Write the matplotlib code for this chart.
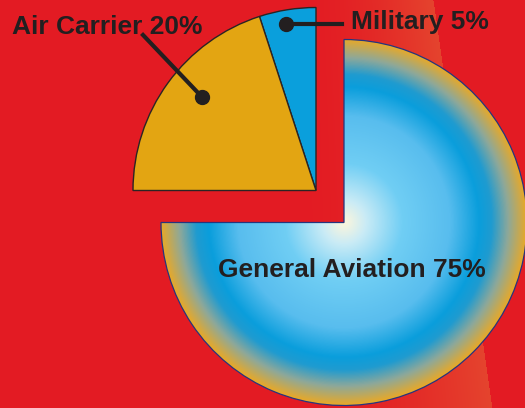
import numpy as np
from matplotlib import pyplot as plt
from matplotlib.colors import LinearSegmentedColormap, to_rgb

# chart data
labels = ['Military', 'Air Carrier', 'General Aviation']
shares = [5, 20, 75]
label_text = ['Military 5%', 'Air Carrier 20%', 'General Aviation 75%']

W, H = 525, 408
RED = '#e31b23'
LIGHT_RED = '#e5442e'
INK = '#231f20'
GOLD = '#e3a512'
BLUE = '#0a9fdc'


def background():
    yy, xx = np.mgrid[0:H, 0:W]
    edge = 433 + (492 - 433) * yy / H
    t = np.clip((xx - 290) / (edge - 290), 0, 1) ** 1.8
    t[xx >= edge] = 0
    c0 = np.array(to_rgb(RED))
    c1 = np.array(to_rgb(LIGHT_RED))
    return c0 + t[..., None] * (c1 - c0)


def main():
    fig = plt.figure(figsize=(W / 100, H / 100), dpi=100)
    ax = fig.add_axes([0, 0, 1, 1])
    ax.imshow(background(), extent=[0, W, 0, H], zorder=0, origin='upper')

    r = 183
    big_c = (344, H - 222.5)
    small_c = (316, H - 190.5)

    # exploded small slices
    small, _ = ax.pie(shares, startangle=90, radius=r, center=small_c,
                      colors=[BLUE, GOLD, 'none'],
                      wedgeprops=dict(edgecolor='#2b2424', linewidth=1.0))
    small[2].set_visible(False)

    # big slice with radial gradient
    big, _ = ax.pie(shares, startangle=90, radius=r, center=big_c,
                    colors=['none', 'none', 'none'],
                    wedgeprops=dict(edgecolor='#26357e', linewidth=0.9))
    big[0].set_visible(False)
    big[1].set_visible(False)
    big[2].set_zorder(3)

    cmap = LinearSegmentedColormap.from_list('ga', [
        (0.00, '#fdf6dc'),
        (0.12, '#c9ebf6'),
        (0.32, '#70cef4'),
        (0.58, '#58bdee'),
        (0.74, '#0a9edc'),
        (0.81, '#1f9bd0'),
        (0.90, '#8da89a'),
        (1.00, '#e6a92a'),
    ])
    n = 600
    g = np.linspace(-1, 1, n)
    gx, gy = np.meshgrid(g, g)
    dist = np.clip(np.hypot(gx, gy), 0, 1)
    im = ax.imshow(cmap(dist), extent=[big_c[0] - r, big_c[0] + r,
                                       big_c[1] - r, big_c[1] + r],
                   zorder=2, interpolation='bilinear')
    im.set_clip_path(big[2])

    font = dict(family='Liberation Sans', weight='bold', size=19, color=INK)

    # labels and leader lines
    ax.text(351, H - 29, label_text[0], ha='left', va='baseline', zorder=5, **font)
    ax.plot([286, 342], [H - 24, H - 24], color=INK, lw=3, zorder=5)
    ax.plot([286], [H - 24], 'o', color=INK, ms=10, zorder=5)

    ax.text(12, H - 34, label_text[1], ha='left', va='baseline', zorder=5, **font)
    ax.plot([143, 202], [H - 35, H - 97], color=INK, lw=3, zorder=5)
    ax.plot([202], [H - 97], 'o', color=INK, ms=10, zorder=5)

    ax.text(218, H - 277, label_text[2], ha='left', va='baseline', zorder=5, **font)

    ax.set_xlim(0, W)
    ax.set_ylim(0, H)
    ax.set_aspect('auto')
    ax.axis('off')
    fig.savefig('out.png', dpi=100)


if __name__ == '__main__':
    main()
